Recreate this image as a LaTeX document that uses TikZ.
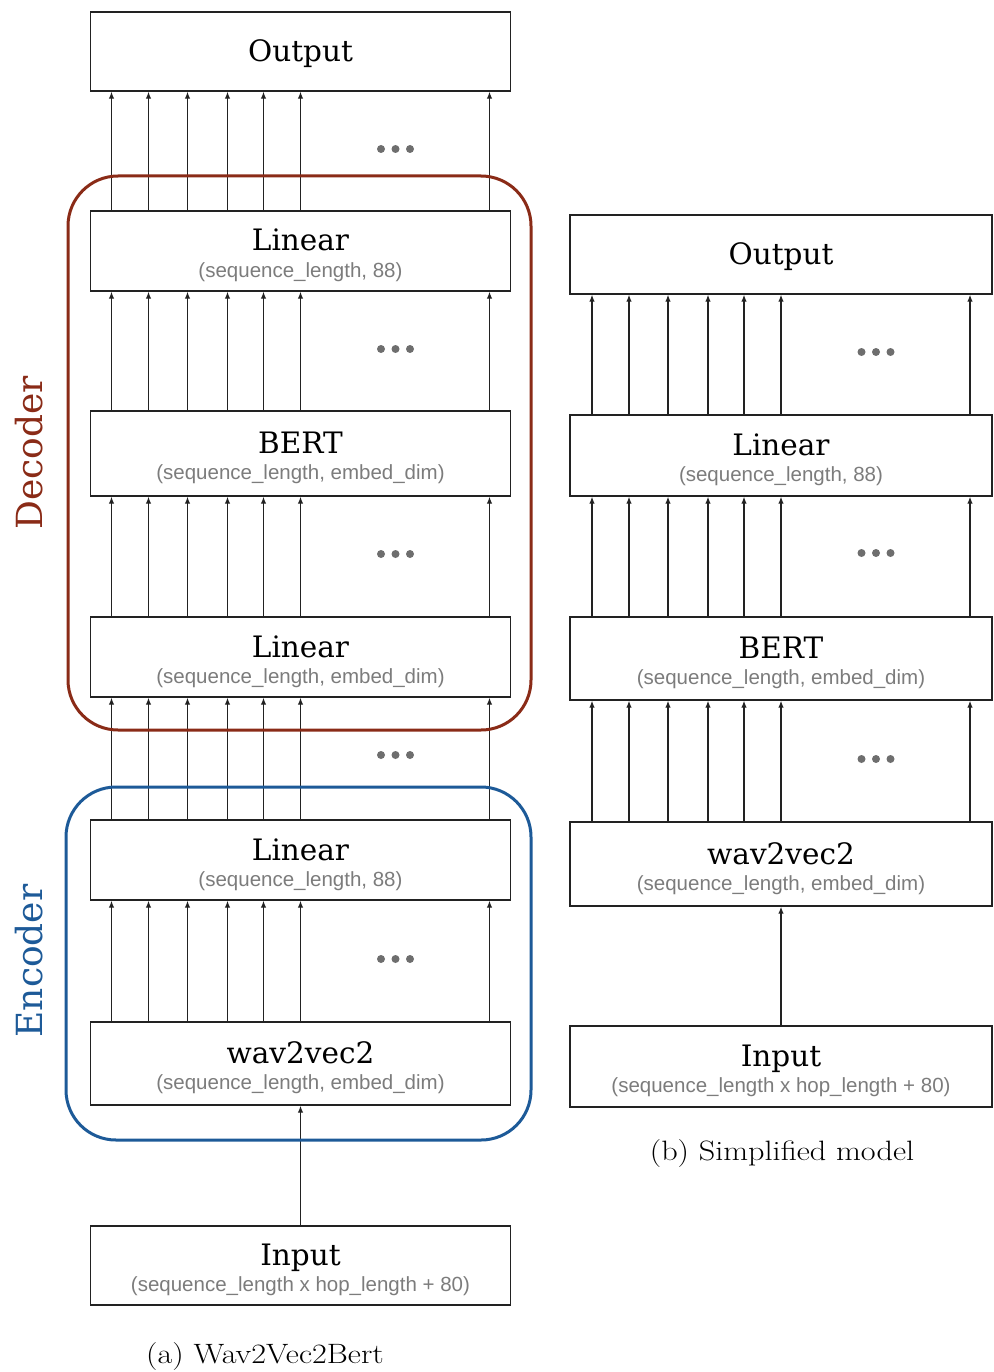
\documentclass[tikz,border=0pt]{standalone}
\usepackage{fontspec}
\usepackage{graphicx}
\usetikzlibrary{arrows.meta}
\newfontfamily\slabfont{DejaVu Serif}
\newfontfamily\dimfont{Liberation Sans}
\definecolor{decred}{HTML}{8A2B17}
\definecolor{encblue}{HTML}{1D5A98}
\definecolor{dimgray}{HTML}{7C7C7C}
\definecolor{dotgray}{HTML}{6E6E6E}
\definecolor{ink}{HTML}{222222}
\newcommand\widecap[1]{\scalebox{1.15}[1]{#1}}
\begin{document}
\begin{tikzpicture}[x=1pt,y=-1pt,
  layer/.style={draw=ink, line width=1.4pt, fill=white, inner sep=0pt},
  leftlayer/.style={layer, minimum width=420pt},
  rightlayer/.style={layer, minimum width=422pt},
  title/.style={font=\slabfont\fontsize{29.5}{34}\selectfont, text=black, anchor=base, inner sep=0pt},
  dims/.style={font=\dimfont\fontsize{20.5}{24}\selectfont, text=dimgray, anchor=base, inner sep=0pt},
  flow/.style={draw=ink, line width=1.2pt, -{Latex[length=7pt,width=5.5pt]}},
  group/.style={line width=3pt, rounded corners=50pt, inner sep=0pt},
  grouplabel/.style={font=\slabfont\fontsize{36}{40}\selectfont, rotate=90, inner sep=0pt},
  caption/.style={font=\fontsize{28}{33}\selectfont, anchor=base, inner sep=0pt},
  dots3/.pic={\foreach \k in {-1,0,1} \fill[dotgray] (\k*14.5,0) circle (4pt);}
]
\useasboundingbox (0,0) rectangle (993,1372);

% ---------------- (a) Wav2Vec2Bert ----------------
\node[leftlayer, minimum height=79pt] (outA)  at (300.5,51.5)   {};
\node[leftlayer, minimum height=80pt] (linA2) at (300.5,251)    {};
\node[leftlayer, minimum height=85pt] (bertA) at (300.5,453.5)  {};
\node[leftlayer, minimum height=80pt] (linA1) at (300.5,657)    {};
\node[leftlayer, minimum height=80pt] (linE)  at (300.5,860)    {};
\node[leftlayer, minimum height=83pt] (w2vA)  at (300.5,1063.5) {};
\node[leftlayer, minimum height=79pt] (inA)   at (300.5,1265.5) {};

\node[title] at ([yshift=-10.5pt]outA.center) {Output};
\node[title] at (linA2.center) {Linear};
\node[dims]  at ([yshift=-26pt]linA2.center) {(sequence\_length, 88)};
\node[title] at (bertA.center) {BERT};
\node[dims]  at ([yshift=-26pt]bertA.center) {(sequence\_length, embed\_dim)};
\node[title] at (linA1.center) {Linear};
\node[dims]  at ([yshift=-26pt]linA1.center) {(sequence\_length, embed\_dim)};
\node[title] at (linE.center) {Linear};
\node[dims]  at ([yshift=-26pt]linE.center) {(sequence\_length, 88)};
\node[title] at (w2vA.center) {wav2vec2};
\node[dims]  at ([yshift=-26pt]w2vA.center) {(sequence\_length, embed\_dim)};
\node[title] at (inA.center) {Input};
\node[dims]  at ([yshift=-26pt]inA.center) {(sequence\_length x hop\_length + 80)};

% parallel per-frame connections
\foreach \lo/\up in {linA2/outA, bertA/linA2, linA1/bertA, linE/linA1, w2vA/linE}
  \foreach \dx in {-189,-152,-113,-73,-37,0,189}
    \draw[flow] ([xshift=\dx pt]\lo.north) -- ([xshift=\dx pt]\up.south);
\draw[flow] (inA.north) -- (w2vA.south);

\foreach \y in {149,349,554,755,959}
  \pic at (395.5,\y) {dots3};

% decoder / encoder groupings
\node[group, draw=decred, minimum width=463pt, minimum height=554pt] (dec) at (299.5,453) {};
\node[group, draw=encblue, minimum width=465pt, minimum height=353pt] (enc) at (298.5,963.5) {};
\node[grouplabel, text=decred]  (declabel) at (29,453) {Decoder};
\node[grouplabel, text=encblue] (enclabel) at (29,961) {Encoder};

\node[caption] (capA) at (265,1363) {\widecap{(a) Wav2Vec2Bert}};

% ---------------- (b) Simplified model ----------------
\node[rightlayer, minimum height=79pt] (outB)  at (781,254.5)  {};
\node[rightlayer, minimum height=81pt] (linB)  at (781,455.5)  {};
\node[rightlayer, minimum height=83pt] (bertB) at (781,658.5)  {};
\node[rightlayer, minimum height=84pt] (w2vB)  at (781,864)    {};
\node[rightlayer, minimum height=81pt] (inB)   at (781,1066.5) {};

\node[title] at ([yshift=-10.5pt]outB.center) {Output};
\node[title] at (linB.center) {Linear};
\node[dims]  at ([yshift=-26pt]linB.center) {(sequence\_length, 88)};
\node[title] at (bertB.center) {BERT};
\node[dims]  at ([yshift=-26pt]bertB.center) {(sequence\_length, embed\_dim)};
\node[title] at (w2vB.center) {wav2vec2};
\node[dims]  at ([yshift=-26pt]w2vB.center) {(sequence\_length, embed\_dim)};
\node[title] at (inB.center) {Input};
\node[dims]  at ([yshift=-26pt]inB.center) {(sequence\_length x hop\_length + 80)};

\foreach \lo/\up in {linB/outB, bertB/linB, w2vB/bertB}
  \foreach \dx in {-189,-152,-113,-73,-37,0,189}
    \draw[flow] ([xshift=\dx pt]\lo.north) -- ([xshift=\dx pt]\up.south);
\draw[flow] (inB.north) -- (w2vB.south);

\foreach \y in {352,553,759}
  \pic at (876,\y) {dots3};

\node[caption] (capB) at (782,1160) {\widecap{(b) Simplified model}};
\end{tikzpicture}
\end{document}
